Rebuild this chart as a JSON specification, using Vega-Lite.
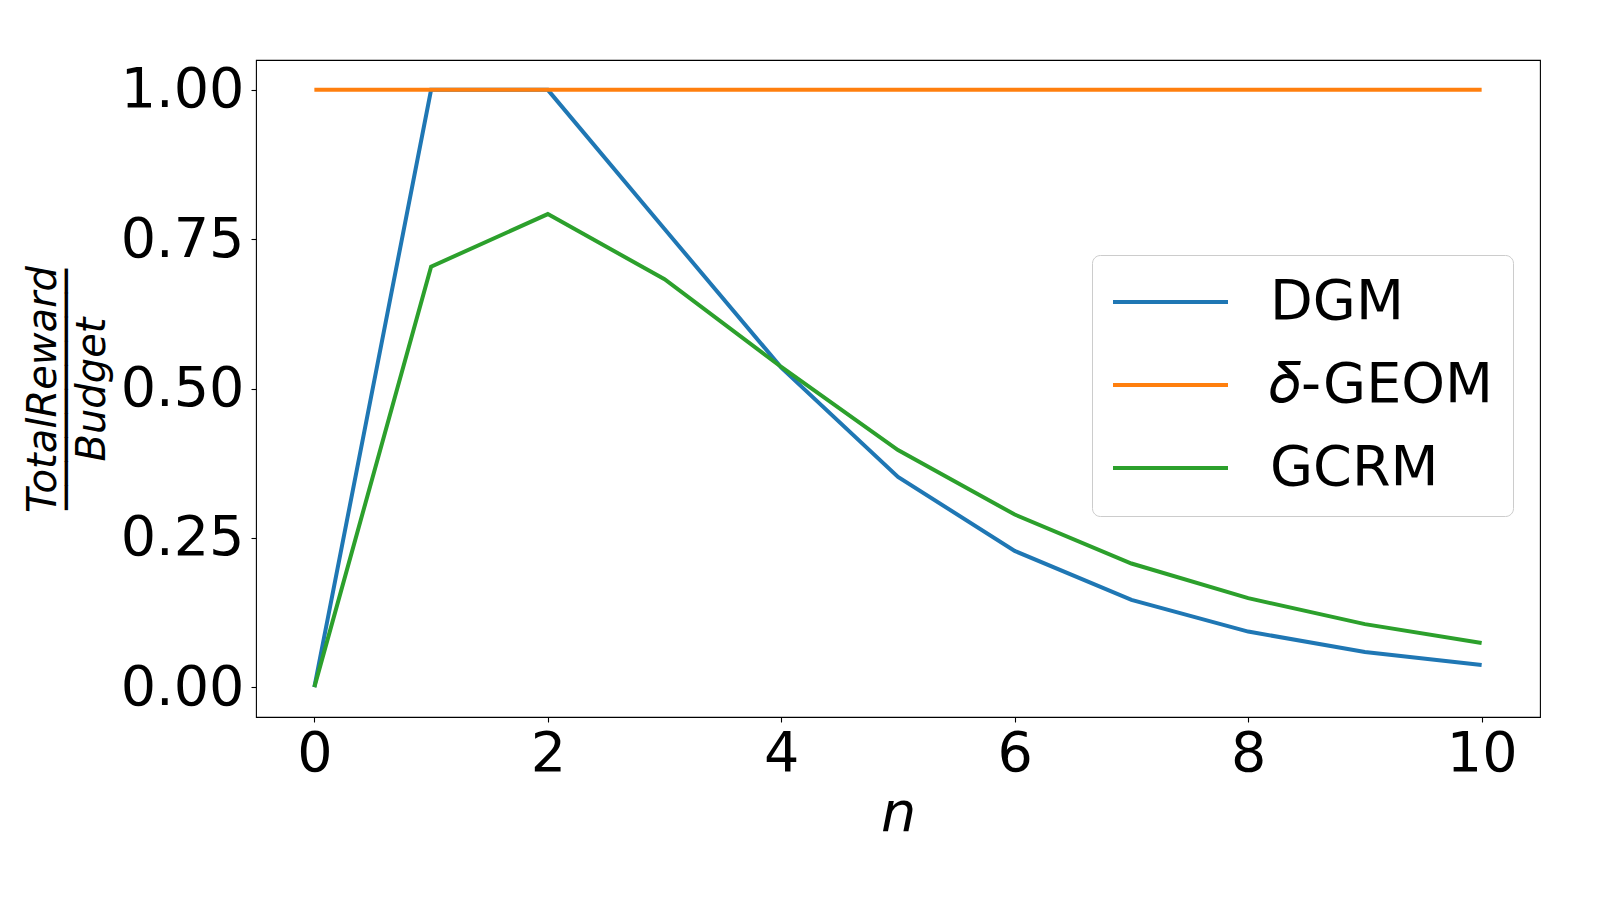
{
  "$schema": "https://vega.github.io/schema/vega-lite/v6.json",
  "width": 1284,
  "height": 657,
  "autosize": "none",
  "padding": {"left": 256, "top": 60, "right": 60, "bottom": 183},
  "background": "white",
  "config": {"view": {"stroke": "black", "strokeWidth": 1.1}, "font": "DejaVu Sans"},
  "data": {"values": [
    {"n": 0, "method": "DGM", "value": 0},
    {"n": 1, "method": "DGM", "value": 1},
    {"n": 2, "method": "DGM", "value": 1},
    {"n": 3, "method": "DGM", "value": 0.767},
    {"n": 4, "method": "DGM", "value": 0.535},
    {"n": 5, "method": "DGM", "value": 0.352},
    {"n": 6, "method": "DGM", "value": 0.228},
    {"n": 7, "method": "DGM", "value": 0.146},
    {"n": 8, "method": "DGM", "value": 0.093},
    {"n": 9, "method": "DGM", "value": 0.059},
    {"n": 10, "method": "DGM", "value": 0.037},
    {"n": 0, "method": "𝛿-GEOM", "value": 1},
    {"n": 1, "method": "𝛿-GEOM", "value": 1},
    {"n": 2, "method": "𝛿-GEOM", "value": 1},
    {"n": 3, "method": "𝛿-GEOM", "value": 1},
    {"n": 4, "method": "𝛿-GEOM", "value": 1},
    {"n": 5, "method": "𝛿-GEOM", "value": 1},
    {"n": 6, "method": "𝛿-GEOM", "value": 1},
    {"n": 7, "method": "𝛿-GEOM", "value": 1},
    {"n": 8, "method": "𝛿-GEOM", "value": 1},
    {"n": 9, "method": "𝛿-GEOM", "value": 1},
    {"n": 10, "method": "𝛿-GEOM", "value": 1},
    {"n": 0, "method": "GCRM", "value": 0},
    {"n": 1, "method": "GCRM", "value": 0.704},
    {"n": 2, "method": "GCRM", "value": 0.792},
    {"n": 3, "method": "GCRM", "value": 0.683},
    {"n": 4, "method": "GCRM", "value": 0.536},
    {"n": 5, "method": "GCRM", "value": 0.397},
    {"n": 6, "method": "GCRM", "value": 0.289},
    {"n": 7, "method": "GCRM", "value": 0.207},
    {"n": 8, "method": "GCRM", "value": 0.149},
    {"n": 9, "method": "GCRM", "value": 0.1055},
    {"n": 10, "method": "GCRM", "value": 0.074}
  ]},
  "mark": {"type": "line", "strokeWidth": 4},
  "encoding": {
    "x": {
      "field": "n", "type": "quantitative",
      "scale": {"domain": [-0.5, 10.5], "nice": false, "zero": false},
      "axis": {
        "values": [0, 2, 4, 6, 8, 10], "title": "n", "grid": false, "domain": false,
        "tickColor": "black", "tickSize": 5, "tickWidth": 1.1,
        "labelFont": "DejaVu Sans", "labelFontSize": 55.6, "labelColor": "black", "labelPadding": 4, "labelFlush": false,
        "titleFont": "DejaVu Sans", "titleFontStyle": "italic", "titleFontWeight": "normal", "titleFontSize": 55.6, "titleColor": "black", "titlePadding": 5
      }
    },
    "y": {
      "field": "value", "type": "quantitative",
      "scale": {"domain": [-0.05, 1.05], "nice": false, "zero": false},
      "axis": {
        "values": [0, 0.25, 0.5, 0.75, 1], "format": ".2f", "grid": false, "domain": false,
        "tickColor": "black", "tickSize": 5, "tickWidth": 1.1,
        "labelFont": "DejaVu Sans", "labelFontSize": 55.6, "labelColor": "black", "labelPadding": 7, "labelFlush": false,
        "title": ["TotalReward", "──────────", "Budget"],
        "titleX": -201, "titleY": 329, "titleAngle": -90, "titleAlign": "center", "titleBaseline": "alphabetic",
        "titleFont": "DejaVu Sans", "titleFontStyle": "italic", "titleFontWeight": "normal", "titleFontSize": 40, "titleLineHeight": 24.7, "titleColor": "black"
      }
    },
    "color": {
      "field": "method", "type": "nominal",
      "scale": {"domain": ["DGM", "𝛿-GEOM", "GCRM"], "range": ["#1f77b4", "#ff7f0e", "#2ca02c"]},
      "legend": {
        "title": null, "orient": "none", "legendX": 836, "legendY": 195,
        "symbolType": "stroke", "symbolStrokeWidth": 4, "symbolSize": 13225, "clipHeight": 56,
        "labelFont": "DejaVu Sans", "labelFontSize": 55.6, "labelColor": "black", "labelOffset": 40, "labelLimit": 600,
        "rowPadding": 26, "padding": 19, "fillColor": "white", "strokeColor": "#cccccc", "cornerRadius": 8
      }
    }
  }
}
